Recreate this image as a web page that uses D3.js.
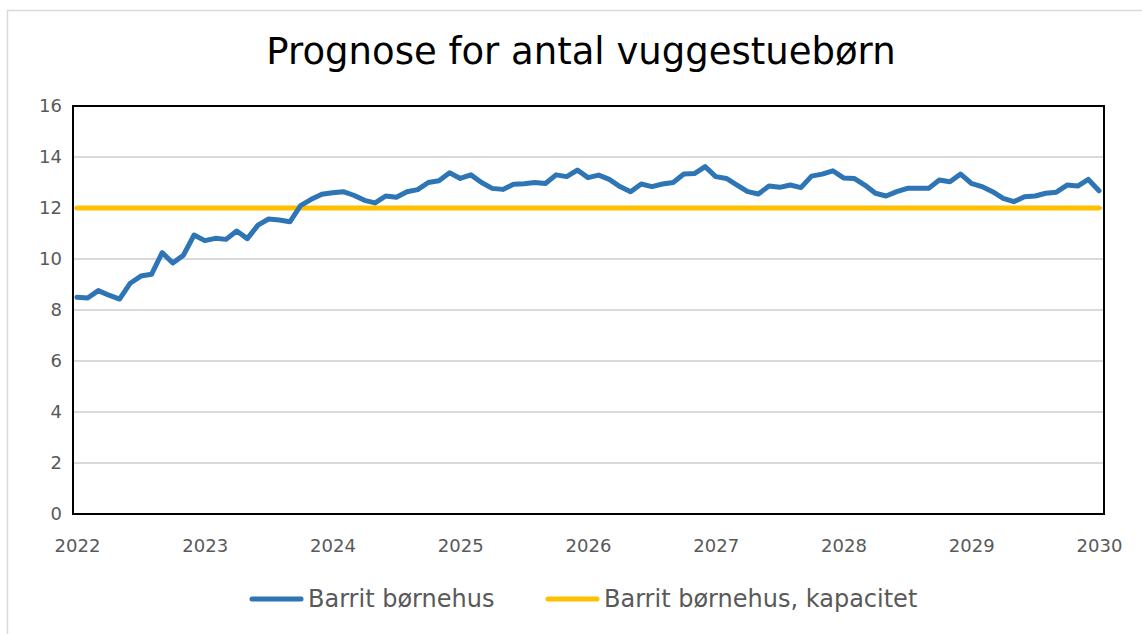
<!DOCTYPE html>
<html>
<head>
<meta charset="utf-8">
<script src="https://cdn.jsdelivr.net/npm/d3@7"></script>
<style>
  body { margin: 0; background: #fff; }
  text { font-family: "DejaVu Sans", Verdana, sans-serif; }
</style>
</head>
<body>
<div class="chart"></div>
<script>
var svgWidth = 1142;
var svgHeight = 634;

// plot frame
var margin = { top: 106, right: 38, bottom: 120, left: 73 };
var width = svgWidth - margin.left - margin.right;
var height = svgHeight - margin.top - margin.bottom;

// data, monthly from jan 2022 to jan 2030
var startYear = 2022;
var children = [
  8.5, 8.47, 8.76, 8.58, 8.43, 9.05, 9.33, 9.4, 10.25, 9.84, 10.15, 10.94,
  10.72, 10.81, 10.77, 11.1, 10.8, 11.33, 11.57, 11.53, 11.46, 12.09, 12.34, 12.54,
  12.6, 12.64, 12.5, 12.3, 12.2, 12.47, 12.42, 12.64, 12.72, 13.0, 13.07, 13.38,
  13.16, 13.3, 13.0, 12.77, 12.73, 12.93, 12.95, 13.0, 12.96, 13.3, 13.23, 13.49,
  13.19, 13.29, 13.12, 12.84, 12.64, 12.94, 12.84, 12.94, 13.0, 13.33, 13.35, 13.62,
  13.23, 13.16, 12.9, 12.64, 12.55, 12.86, 12.81, 12.9, 12.8, 13.25, 13.33, 13.46,
  13.18, 13.16, 12.9, 12.58, 12.47, 12.64, 12.77, 12.77, 12.77, 13.1, 13.03, 13.33,
  12.97, 12.84, 12.64, 12.38, 12.25, 12.44, 12.47, 12.58, 12.62, 12.9, 12.86, 13.12,
  12.68
];
var capacity = 12;
var yearTicks = [2022, 2023, 2024, 2025, 2026, 2027, 2028, 2029, 2030];
var yTicks = [0, 2, 4, 6, 8, 10, 12, 14, 16];
var seriesNames = ["Barrit børnehus", "Barrit børnehus, kapacitet"];
var seriesColors = ["#2e75b6", "#ffc000"];

var svg = d3.select(".chart")
  .append("svg")
  .attr("width", svgWidth)
  .attr("height", svgHeight);

// outer chart border
svg.append("rect")
  .attr("x", 7.5)
  .attr("y", 10.5)
  .attr("width", 1200)
  .attr("height", 700)
  .attr("fill", "#fff")
  .attr("stroke", "#d9d9d9")
  .attr("stroke-width", 1.5);

svg.append("text")
  .attr("x", 581)
  .attr("y", 64)
  .attr("text-anchor", "middle")
  .attr("font-size", 37)
  .attr("fill", "#000")
  .text("Prognose for antal vuggestuebørn");

var chartGroup = svg.append("g")
  .attr("transform", `translate(${margin.left}, ${margin.top})`);

var xScale = d3.scaleLinear()
  .domain([2022, 2030])
  .range([4, width - 5]);

var yScale = d3.scaleLinear()
  .domain([0, 16])
  .range([height, 0]);

// gridlines
chartGroup.append("g")
  .selectAll("line")
  .data(yTicks)
  .enter()
  .append("line")
  .attr("x1", 0)
  .attr("x2", width)
  .attr("y1", d => yScale(d))
  .attr("y2", d => yScale(d))
  .attr("stroke", "#d9d9d9")
  .attr("stroke-width", 2);

// y axis labels
var leftAxis = d3.axisLeft(yScale).tickValues(yTicks).tickSize(0).tickPadding(11);
chartGroup.append("g")
  .call(leftAxis)
  .call(g => g.select(".domain").remove())
  .selectAll("text")
  .attr("font-size", 18)
  .attr("fill", "#595959")
  .style("font-family", "DejaVu Sans, sans-serif");

// x axis labels
var bottomAxis = d3.axisBottom(xScale).tickValues(yearTicks).tickFormat(d3.format("d")).tickSize(0).tickPadding(25);
chartGroup.append("g")
  .attr("transform", `translate(0, ${height})`)
  .call(bottomAxis)
  .call(g => g.select(".domain").remove())
  .selectAll("text")
  .attr("font-size", 18)
  .attr("fill", "#595959")
  .style("font-family", "DejaVu Sans, sans-serif");

// capacity line
chartGroup.append("line")
  .attr("x1", xScale(2022))
  .attr("x2", xScale(2030))
  .attr("y1", yScale(capacity))
  .attr("y2", yScale(capacity))
  .attr("stroke", seriesColors[1])
  .attr("stroke-width", 5)
  .attr("stroke-linecap", "round");

// children line
var line = d3.line()
  .x((d, i) => xScale(startYear + i / 12))
  .y(d => yScale(d));

chartGroup.append("path")
  .datum(children)
  .attr("d", line)
  .attr("fill", "none")
  .attr("stroke", seriesColors[0])
  .attr("stroke-width", 5)
  .attr("stroke-linejoin", "round")
  .attr("stroke-linecap", "round");

// plot frame
chartGroup.append("rect")
  .attr("x", 0)
  .attr("y", 0)
  .attr("width", width)
  .attr("height", height)
  .attr("fill", "none")
  .attr("stroke", "#000")
  .attr("stroke-width", 2);

// legend
var legendX = [252, 548];
var legend = svg.append("g")
  .selectAll("g")
  .data(seriesNames)
  .enter()
  .append("g")
  .attr("transform", (d, i) => `translate(${legendX[i]}, 599)`);

legend.append("line")
  .attr("x1", 0)
  .attr("x2", 49)
  .attr("stroke", (d, i) => seriesColors[i])
  .attr("stroke-width", 5)
  .attr("stroke-linecap", "round");

legend.append("text")
  .attr("x", 56)
  .attr("y", 8)
  .attr("font-size", 24)
  .attr("fill", "#595959")
  .text(d => d);
</script>
</body>
</html>
